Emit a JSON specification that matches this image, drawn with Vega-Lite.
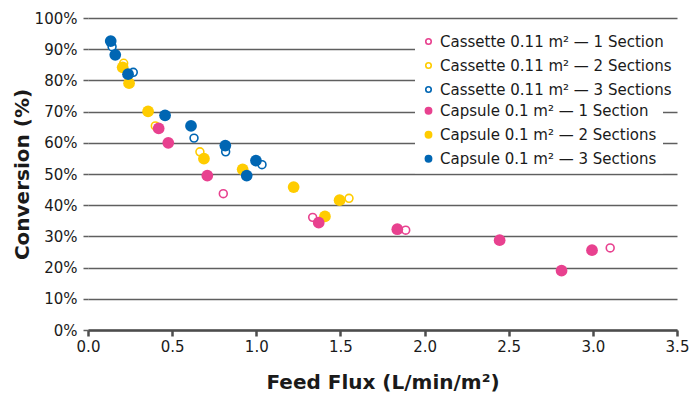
{
  "$schema": "https://vega.github.io/schema/vega-lite/v6.json",
  "width": 589,
  "height": 312,
  "autosize": {"type": "none"},
  "padding": {"left": 88, "top": 18, "right": 14, "bottom": 66},
  "background": "white",
  "config": {
    "font": "DejaVu Sans",
    "view": {"stroke": null},
    "axis": {"labelColor": "#1a1a1a", "titleColor": "#1a1a1a", "labelFont": "DejaVu Sans", "titleFont": "DejaVu Sans"},
    "legend": {
      "title": null,
      "orient": "none",
      "fillColor": "white",
      "padding": 6,
      "labelFontSize": 15,
      "labelFont": "DejaVu Sans",
      "labelColor": "#1a1a1a",
      "labelLimit": 320,
      "labelOffset": 4,
      "rowPadding": 8,
      "symbolType": "circle"
    }
  },
  "data": {
    "values": [
      {"series": "Cassette 0.11 m² — 1 Section", "flux": 0.804, "conversion": 0.437},
      {"series": "Cassette 0.11 m² — 1 Section", "flux": 1.335, "conversion": 0.361},
      {"series": "Cassette 0.11 m² — 1 Section", "flux": 1.888, "conversion": 0.320},
      {"series": "Cassette 0.11 m² — 1 Section", "flux": 3.103, "conversion": 0.263},
      {"series": "Cassette 0.11 m² — 2 Sections", "flux": 0.212, "conversion": 0.855},
      {"series": "Cassette 0.11 m² — 2 Sections", "flux": 0.400, "conversion": 0.654},
      {"series": "Cassette 0.11 m² — 2 Sections", "flux": 0.665, "conversion": 0.571},
      {"series": "Cassette 0.11 m² — 2 Sections", "flux": 1.551, "conversion": 0.422},
      {"series": "Cassette 0.11 m² — 3 Sections", "flux": 0.143, "conversion": 0.908},
      {"series": "Cassette 0.11 m² — 3 Sections", "flux": 0.269, "conversion": 0.826},
      {"series": "Cassette 0.11 m² — 3 Sections", "flux": 0.630, "conversion": 0.615},
      {"series": "Cassette 0.11 m² — 3 Sections", "flux": 0.818, "conversion": 0.571},
      {"series": "Cassette 0.11 m² — 3 Sections", "flux": 1.034, "conversion": 0.530},
      {"series": "Capsule 0.1 m² — 2 Sections", "flux": 0.206, "conversion": 0.842},
      {"series": "Capsule 0.1 m² — 2 Sections", "flux": 0.244, "conversion": 0.791},
      {"series": "Capsule 0.1 m² — 2 Sections", "flux": 0.357, "conversion": 0.701},
      {"series": "Capsule 0.1 m² — 2 Sections", "flux": 0.689, "conversion": 0.549},
      {"series": "Capsule 0.1 m² — 2 Sections", "flux": 0.919, "conversion": 0.515},
      {"series": "Capsule 0.1 m² — 2 Sections", "flux": 1.222, "conversion": 0.458},
      {"series": "Capsule 0.1 m² — 2 Sections", "flux": 1.408, "conversion": 0.364},
      {"series": "Capsule 0.1 m² — 2 Sections", "flux": 1.495, "conversion": 0.416},
      {"series": "Capsule 0.1 m² — 1 Section", "flux": 0.420, "conversion": 0.646},
      {"series": "Capsule 0.1 m² — 1 Section", "flux": 0.477, "conversion": 0.600},
      {"series": "Capsule 0.1 m² — 1 Section", "flux": 0.709, "conversion": 0.495},
      {"series": "Capsule 0.1 m² — 1 Section", "flux": 1.371, "conversion": 0.344},
      {"series": "Capsule 0.1 m² — 1 Section", "flux": 1.838, "conversion": 0.323},
      {"series": "Capsule 0.1 m² — 1 Section", "flux": 2.446, "conversion": 0.288},
      {"series": "Capsule 0.1 m² — 1 Section", "flux": 2.814, "conversion": 0.190},
      {"series": "Capsule 0.1 m² — 1 Section", "flux": 2.995, "conversion": 0.256},
      {"series": "Capsule 0.1 m² — 3 Sections", "flux": 0.135, "conversion": 0.926},
      {"series": "Capsule 0.1 m² — 3 Sections", "flux": 0.162, "conversion": 0.882},
      {"series": "Capsule 0.1 m² — 3 Sections", "flux": 0.238, "conversion": 0.820},
      {"series": "Capsule 0.1 m² — 3 Sections", "flux": 0.458, "conversion": 0.688},
      {"series": "Capsule 0.1 m² — 3 Sections", "flux": 0.612, "conversion": 0.654},
      {"series": "Capsule 0.1 m² — 3 Sections", "flux": 0.816, "conversion": 0.591},
      {"series": "Capsule 0.1 m² — 3 Sections", "flux": 0.998, "conversion": 0.543},
      {"series": "Capsule 0.1 m² — 3 Sections", "flux": 0.943, "conversion": 0.495}
    ]
  },
  "encoding": {
    "x": {
      "field": "flux",
      "type": "quantitative",
      "scale": {"domain": [0, 3.5], "nice": false, "zero": true},
      "axis": {
        "title": "Feed Flux (L/min/m²)",
        "values": [0, 0.5, 1, 1.5, 2, 2.5, 3, 3.5],
        "format": ".1f",
        "grid": false,
        "domain": true,
        "domainColor": "#4d4d4d",
        "domainWidth": 2.5,
        "ticks": true,
        "tickColor": "#4d4d4d",
        "tickWidth": 2.5,
        "tickSize": 6,
        "labelFontSize": 15,
        "labelPadding": 3,
        "labelFlush": false,
        "titleFontSize": 20,
        "titleFontWeight": "bold",
        "titlePadding": 18
      }
    },
    "y": {
      "field": "conversion",
      "type": "quantitative",
      "scale": {"domain": [0, 1], "nice": false},
      "axis": {
        "title": "Conversion (%)",
        "values": [0, 0.1, 0.2, 0.3, 0.4, 0.5, 0.6, 0.7, 0.8, 0.9, 1],
        "format": ".0%",
        "grid": true,
        "gridColor": "#5f5f5f",
        "gridWidth": 1.5,
        "domain": false,
        "ticks": true,
        "tickColor": "#5f5f5f",
        "tickWidth": 1.5,
        "tickSize": 5,
        "labelFontSize": 15,
        "labelPadding": 6,
        "titleFontSize": 20,
        "titleFontWeight": "bold",
        "titlePadding": 2
      }
    }
  },
  "layer": [
    {
      "transform": [{"filter": "indexof(datum.series, 'Cassette') === 0"}],
      "mark": {"type": "point", "shape": "circle", "filled": false, "fill": "#ffffff", "size": 62, "strokeWidth": 1.6, "opacity": 1},
      "encoding": {
        "color": {
          "field": "series",
          "type": "nominal",
          "scale": {
            "domain": ["Cassette 0.11 m² — 1 Section", "Cassette 0.11 m² — 2 Sections", "Cassette 0.11 m² — 3 Sections"],
            "range": ["#E8418F", "#FFCC00", "#0066B3"]
          },
          "legend": {
            "legendX": 327,
            "legendY": 10,
            "symbolSize": 30,
            "symbolStrokeWidth": 1.6,
            "symbolFillColor": "#ffffff"
          }
        }
      }
    },
    {
      "transform": [{"filter": "indexof(datum.series, 'Capsule') === 0"}],
      "mark": {"type": "point", "shape": "circle", "filled": true, "size": 138, "strokeWidth": 1, "opacity": 1},
      "encoding": {
        "color": {
          "field": "series",
          "type": "nominal",
          "scale": {
            "domain": ["Capsule 0.1 m² — 1 Section", "Capsule 0.1 m² — 2 Sections", "Capsule 0.1 m² — 3 Sections"],
            "range": ["#E8418F", "#FFCC00", "#0066B3"]
          },
          "legend": {
            "legendX": 327,
            "legendY": 79.3,
            "symbolSize": 62
          }
        }
      }
    }
  ],
  "resolve": {"scale": {"color": "independent"}, "legend": {"color": "independent"}}
}
